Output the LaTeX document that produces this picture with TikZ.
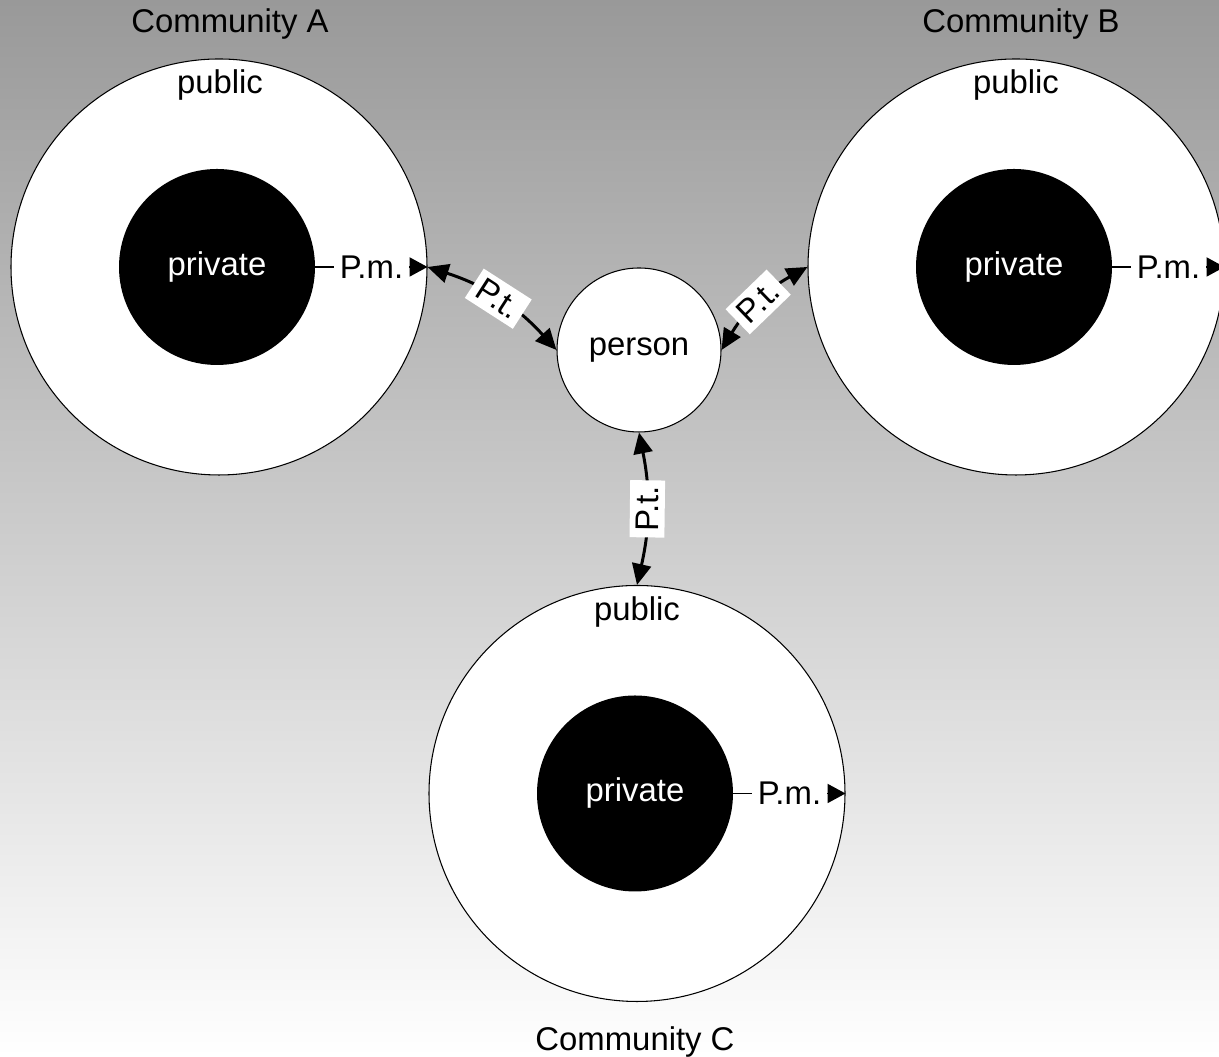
\documentclass[tikz,border=0pt]{standalone}
\usepackage{fontspec}
\setmainfont{Liberation Sans}
\usetikzlibrary{arrows.meta}

\begin{document}
\begin{tikzpicture}[
	font=\fontsize{18.7}{22}\selectfont,
	pubcircle/.style={circle,draw,line width=0.6pt,fill=white,minimum size=8.32cm,inner sep=0pt},
	privcircle/.style={circle,fill=black,text=white,minimum size=3.92cm,inner sep=0pt},
	personcircle/.style={circle,draw,line width=0.6pt,fill=white,minimum size=3.28cm,inner sep=0pt},
	pmlink/.style={-{Triangle[length=0.36cm,width=0.38cm]},line width=1.1pt},
	ptlink/.style={{Triangle[length=0.42cm,width=0.38cm]}-{Triangle[length=0.42cm,width=0.38cm]},line width=1.7pt},
	tag/.style={fill=white,inner sep=0.12cm}
]
	% Background
	\shade[top color={rgb,255:red,153;green,153;blue,153},bottom color=white] (0,0) rectangle (24.38,21.14);
	\useasboundingbox (0,0) rectangle (24.38,21.14);

	% Nodes
	\node[pubcircle] (A) at (4.38,15.80) {};
	\node[pubcircle] (B) at (20.32,15.80) {};
	\node[pubcircle] (C) at (12.74,5.27) {};
	\node[privcircle] (Apriv) at (4.34,15.80) {private};
	\node[privcircle] (Bpriv) at (20.28,15.80) {private};
	\node[privcircle] (Cpriv) at (12.70,5.27) {private};
	\node[personcircle] (P) at (12.78,14.14) {person};

	\node (Apub) at (4.40,19.43) {public};
	\node (Bpub) at (20.32,19.43) {public};
	\node (Cpub) at (12.74,8.89) {public};
	\node (Aname) at (4.60,20.66) {Community A};
	\node (Bname) at (20.42,20.66) {Community B};
	\node (Cname) at (12.70,0.30) {Community C};

	% Arrows
	\draw[pmlink] (Apriv.east) -- (Apriv.east -| A.east) node[midway,tag] {P.m.};
	\draw[pmlink] (Bpriv.east) -- (Bpriv.east -| B.east) node[midway,tag] {P.m.};
	\draw[pmlink] (Cpriv.east) -- (Cpriv.east -| C.east) node[midway,tag] {P.m.};
	\draw[ptlink] (A.east) to[bend left=15] node[sloped,tag] {P.t.} (P.west);
	\draw[ptlink] (P.east) to[bend left=15] node[sloped,tag] {P.t.} (B.west);
	\draw[ptlink] (C.north) to[bend right=12] node[sloped,tag] {P.t.} (P.south);
\end{tikzpicture}
\end{document}
